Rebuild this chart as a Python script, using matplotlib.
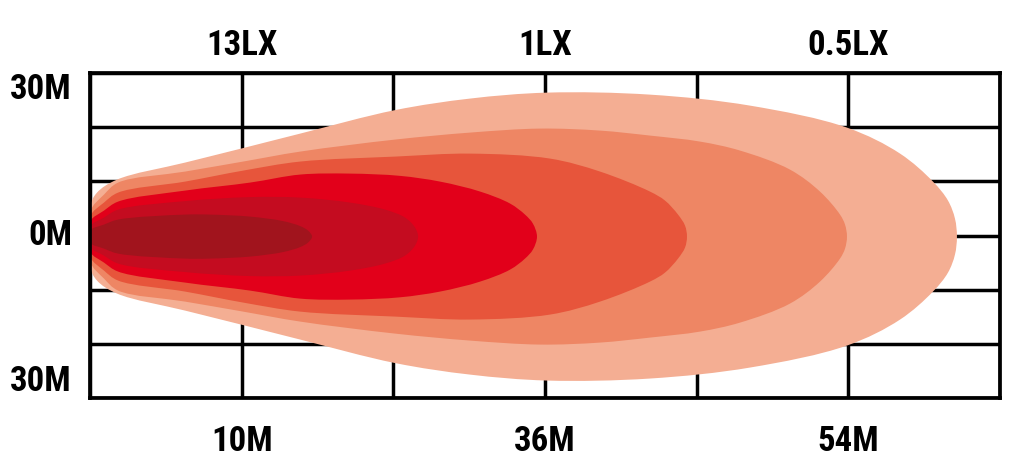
import numpy as np
import matplotlib
matplotlib.use("Agg")
import matplotlib.pyplot as plt
from matplotlib import font_manager
from matplotlib.path import Path
from matplotlib.patches import PathPatch

# grid: 6 columns x 6 rows, x in grid units from the lamp, y in grid units off axis
top_labels = ["13LX", "1LX", "0.5LX"]
bottom_labels = ["10M", "36M", "54M"]
label_cols = [1, 3, 5]
side_labels = ["30M", "0M", "30M"]
side_rows = [3, 0, -3]

# beam outlines (upper half, mirrored below), outermost first
beam_x = [
    [0.0, 0.046, 0.178, 0.626, 1.009, 1.385, 2.011, 2.505, 3.013, 3.692, 4.352, 4.991, 5.341, 5.558, 5.657, 5.703, 5.716],
    [0.0, 0.092, 0.185, 0.626, 1.009, 1.385, 2.011, 2.505, 2.967, 3.363, 3.692, 4.022, 4.286, 4.615, 4.813, 4.945, 4.978, 4.991],
    [0.0, 0.092, 0.185, 0.626, 1.009, 1.385, 2.011, 2.505, 3.033, 3.363, 3.692, 3.791, 3.877, 3.923, 3.936],
    [0.0, 0.092, 0.185, 0.626, 1.055, 1.385, 1.714, 2.044, 2.308, 2.572, 2.77, 2.868, 2.92, 2.947],
    [0.0, 0.092, 0.185, 0.626, 1.055, 1.385, 1.714, 1.945, 2.077, 2.143, 2.163],
    [0.0, 0.092, 0.185, 0.626, 0.791, 1.055, 1.272, 1.385, 1.437, 1.464],
]
beam_h = [
    [0.554, 0.812, 1.052, 1.366, 1.634, 1.901, 2.335, 2.548, 2.658, 2.621, 2.418, 2.012, 1.532, 1.015, 0.665, 0.332, 0.0],
    [0.462, 0.775, 0.997, 1.2, 1.385, 1.569, 1.791, 1.92, 1.994, 1.957, 1.865, 1.754, 1.588, 1.237, 0.831, 0.406, 0.222, 0.0],
    [0.369, 0.628, 0.812, 1.015, 1.218, 1.385, 1.477, 1.532, 1.44, 1.2, 0.831, 0.665, 0.406, 0.203, 0.0],
    [0.277, 0.48, 0.646, 0.849, 0.997, 1.145, 1.163, 1.121, 1.015, 0.831, 0.609, 0.406, 0.24, 0.0],
    [0.185, 0.351, 0.498, 0.655, 0.729, 0.72, 0.628, 0.498, 0.351, 0.166, 0.0],
    [0.111, 0.222, 0.314, 0.406, 0.406, 0.369, 0.286, 0.194, 0.111, 0.0],
]
beam_colors = ["#F4AE93", "#EE8664", "#E7553B", "#E2001A", "#C40C20", "#A1141D"]
beam_center = -0.02

# one grid column is ~2.8x wider than one row on screen
ASPECT = 2.8


def pick_font():
    have = {f.name for f in font_manager.fontManager.ttflist}
    for name in ["Roboto Condensed", "Liberation Sans Narrow", "Open Sans Condensed", "DejaVu Sans"]:
        if name in have:
            return name
    return "DejaVu Sans"


def beam_path(xs, hs, yc):
    # closed loop: top left->tip, then bottom tip->left
    pts = [(x, yc + h) for x, h in zip(xs, hs)]
    pts += [(x, yc - h) for x, h in zip(xs[-2::-1], hs[-2::-1])]
    pts = np.array(pts)
    scr = pts * [ASPECT, 1.0]
    n = len(pts)
    verts = [pts[0]]
    codes = [Path.MOVETO]
    # centripetal catmull-rom, written as cubic beziers
    for i in range(n):
        ia, ib, ic, idx = i - 1, i, (i + 1) % n, (i + 2) % n
        p0, p1, p2, p3 = pts[ia], pts[ib], pts[ic], pts[idx]
        d0 = max(np.linalg.norm(scr[ib] - scr[ia]) ** 0.5, 1e-6)
        d1 = max(np.linalg.norm(scr[ic] - scr[ib]) ** 0.5, 1e-6)
        d2 = max(np.linalg.norm(scr[idx] - scr[ic]) ** 0.5, 1e-6)
        t1 = (p1 - p0) / d0 - (p2 - p0) / (d0 + d1) + (p2 - p1) / d1
        t2 = (p2 - p1) / d1 - (p3 - p1) / (d1 + d2) + (p3 - p2) / d2
        verts += [p1 + t1 * d1 / 3, p2 - t2 * d1 / 3, p2]
        codes += [Path.CURVE4] * 3
    return Path(verts, codes)


font = pick_font()
txt = dict(family=font, fontweight="bold", fontsize=25, color="black")

fig = plt.figure(figsize=(10.14, 4.61), dpi=100)
ax = fig.add_axes([0.0888, 0.1367, 0.8974, 0.7049])
ax.set_xlim(0, 6)
ax.set_ylim(-3, 3)

for xs, hs, c in zip(beam_x, beam_h, beam_colors):
    ax.add_patch(PathPatch(beam_path(xs, hs, beam_center), facecolor=c, edgecolor="none", zorder=1))

ax.set_xticks(range(7))
ax.set_yticks(range(-3, 4))
ax.set_axisbelow(True)
ax.grid(True, color="black", linewidth=2.5)
ax.tick_params(length=0, labelbottom=False, labelleft=False)
for s in ax.spines.values():
    s.set_linewidth(2.7)
    s.set_zorder(3)

for col, t in zip(label_cols, top_labels):
    ax.annotate(t, xy=(col, 3), xytext=(0, 20), textcoords="offset points",
                ha="center", va="center", **txt)
for col, t in zip(label_cols, bottom_labels):
    ax.annotate(t, xy=(col, -3), xytext=(0, -31), textcoords="offset points",
                ha="center", va="center", **txt)
for row, t in zip(side_rows, side_labels):
    va = "top" if row > 0 else ("bottom" if row < 0 else "center")
    ax.annotate(t, xy=(0, row), xytext=(-13, 0), textcoords="offset points",
                ha="right", va=va, **txt)

fig.savefig("out.png", dpi=100)
